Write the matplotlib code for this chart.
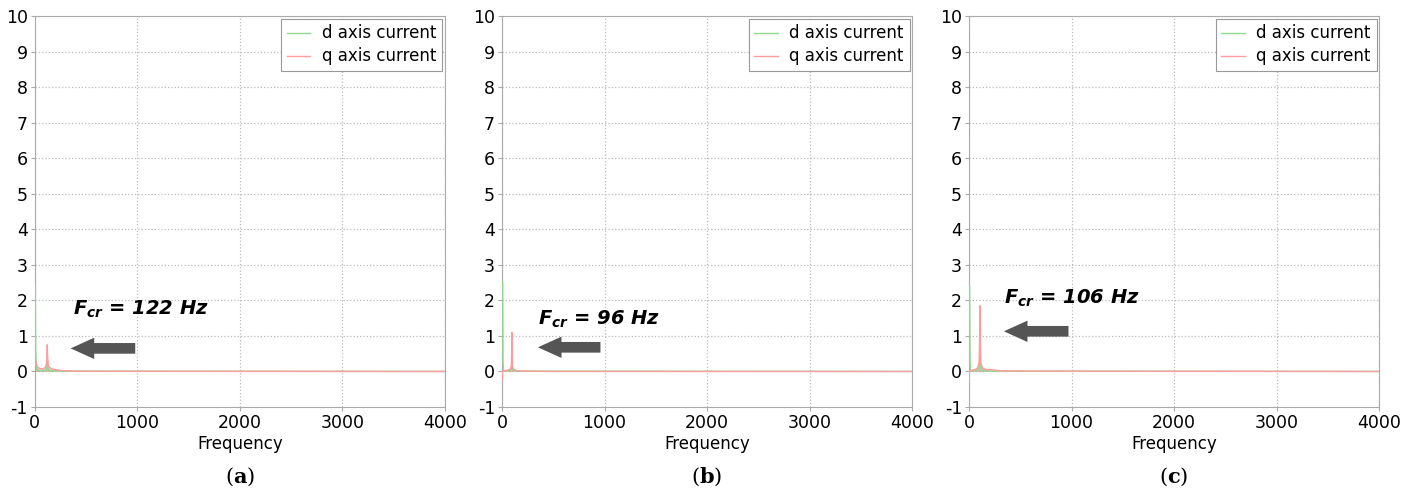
import matplotlib
matplotlib.use('Agg')
import matplotlib.pyplot as plt

plt.rcParams['font.family'] = 'DejaVu Sans'
plt.rcParams['axes.unicode_minus'] = False
plt.rcParams['mathtext.fontset'] = 'custom'
plt.rcParams['mathtext.it'] = 'DejaVu Sans:italic:bold'
plt.rcParams['mathtext.rm'] = 'DejaVu Sans:bold'
plt.rcParams['mathtext.bf'] = 'DejaVu Serif:bold'

# Spectra (frequency in Hz, amplitude)
q_freq_a = [0, 5, 15, 30, 50, 80, 105, 115, 119, 122, 125, 130, 140, 170, 220, 300, 400, 600, 4000]
q_amp_a = [0.55, 0.35, 0.2, 0.12, 0.08, 0.07, 0.12, 0.25, 0.5, 0.75, 0.45, 0.2, 0.12, 0.07, 0.04, 0.02, 0.01, 0.005, 0.0]
d_freq_a = [6, 9, 14, 25, 60, 110, 118, 122, 126, 140, 250, 4000]
d_amp_a = [2.4, 0.6, 0.1, 0.03, 0.02, 0.04, 0.1, 0.25, 0.1, 0.03, 0.01, 0.0]

q_freq_b = [0, 5, 20, 50, 80, 90, 94, 96, 98, 102, 115, 150, 250, 500, 4000]
q_amp_b = [-0.25, 0.02, 0.02, 0.03, 0.06, 0.15, 0.5, 1.1, 0.45, 0.12, 0.05, 0.02, 0.01, 0.0, 0.0]
d_freq_b = [6, 9, 15, 60, 88, 96, 104, 150, 4000]
d_amp_b = [2.5, 0.3, 0.02, 0.02, 0.05, 0.15, 0.05, 0.01, 0.0]

q_freq_c = [0, 5, 20, 50, 80, 98, 103, 106, 109, 114, 130, 170, 200, 300, 600, 4000]
q_amp_c = [-0.3, 0.02, 0.03, 0.05, 0.08, 0.25, 0.9, 1.85, 0.8, 0.25, 0.1, 0.05, 0.06, 0.02, 0.01, 0.0]
d_freq_c = [6, 9, 15, 60, 95, 102, 106, 110, 120, 180, 4000]
d_amp_c = [2.4, 0.3, 0.02, 0.03, 0.08, 0.2, 0.45, 0.2, 0.05, 0.01, 0.0]

fcr_labels = ['122', '96', '106']
# annotation anchor: text (x, y), arrow tail (x, y), arrow tip x
text_pos = [(370, 1.75), (350, 1.47), (340, 2.05)]
arrow_pos = [(980, 0.65, 350), (960, 0.68, 350), (970, 1.13, 340)]
captions = ['a', 'b', 'c']

panels = [
    (q_freq_a, q_amp_a, d_freq_a, d_amp_a),
    (q_freq_b, q_amp_b, d_freq_b, d_amp_b),
    (q_freq_c, q_amp_c, d_freq_c, d_amp_c),
]

green = '#8fd88f'
pink = '#ff9c9c'
gray = '#aaaaaa'

fig = plt.figure(figsize=(14.13, 5.01), dpi=100)
lefts = [0.0246, 0.3553, 0.6858]

for i, (qf, qa, df, da) in enumerate(panels):
    ax = fig.add_axes([lefts[i], 0.1876, 0.2902, 0.7804])
    ax.fill_between(qf, 0, qa, color='#f08080', alpha=0.45, lw=0, zorder=3)
    ax.fill_between(df, 0, da, color='#80c080', alpha=0.35, lw=0, zorder=3)
    ax.plot(df, da, color=green, lw=1, label='d axis current', zorder=3)
    ax.plot(qf, qa, color=pink, lw=1, label='q axis current', zorder=4)

    ax.set_xlim(0, 4000)
    ax.set_ylim(-1, 10)
    ax.set_xticks([0, 1000, 2000, 3000, 4000])
    ax.set_yticks(range(-1, 11))
    ax.grid(True, color='#bbbbbb', linestyle=':', linewidth=0.9)
    ax.set_axisbelow(True)
    for s in ax.spines.values():
        s.set_color(gray)
        s.set_zorder(2)
    ax.tick_params(direction='out', length=3, color=gray, labelsize=12.5, pad=2)
    ax.set_xlabel('Frequency', fontsize=12, labelpad=2)

    leg = ax.legend(loc='upper right', fontsize=12, fancybox=False, framealpha=1,
                    edgecolor='#999999', handlelength=1.4, handletextpad=0.7,
                    borderaxespad=0.15, borderpad=0.35, labelspacing=0.3)
    leg.get_frame().set_linewidth(0.8)
    leg.set_zorder(5)

    tx, ty = text_pos[i]
    ax.text(tx, ty, '$F_{cr}$ = ' + fcr_labels[i] + ' Hz', fontsize=14,
            fontweight='bold', style='italic', va='center', ha='left', zorder=6)
    x0, y0, x1 = arrow_pos[i]
    ax.arrow(x0, y0, x1 - x0, 0, width=0.3, head_width=0.6, head_length=230,
             length_includes_head=True, color='#555555', lw=0, zorder=6)

    fig.text(lefts[i] + 0.2902 / 2, 0.025, '(' + r'$\mathbf{' + captions[i] + '}$' + ')',
             ha='center', va='bottom', fontsize=15, family='DejaVu Serif')

fig.savefig('out.png', dpi=100)
